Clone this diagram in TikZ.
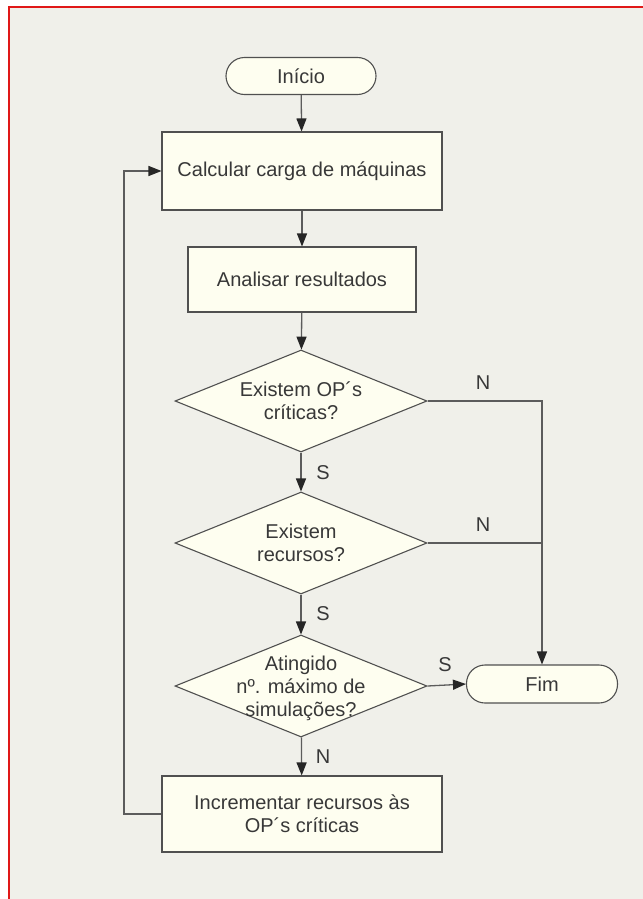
\documentclass[tikz,border=0pt]{standalone}
\usepackage{fontspec}
\setmainfont{Liberation Sans}
\usetikzlibrary{arrows.meta,shapes.geometric}

\definecolor{pagebg}{HTML}{F0F0EA}
\definecolor{boxfill}{HTML}{FEFEF0}
\definecolor{boxline}{HTML}{505050}
\definecolor{wire}{HTML}{5C5C5C}
\definecolor{tip}{HTML}{262626}
\definecolor{ink}{HTML}{383838}
\definecolor{frame}{HTML}{E01818}

\tikzset{
  base/.style={draw=boxline, fill=boxfill, line width=1.1bp, text=ink,
    font=\fontsize{20bp}{23bp}\selectfont, inner sep=0pt, align=center},
  terminal/.style={base, rectangle, rounded corners=18.5bp,
    minimum width=150bp, minimum height=37bp},
  process/.style={base, rectangle, minimum width=280bp},
  decision/.style={base, diamond, minimum width=252bp, minimum height=102bp},
  dtext/.style={text=ink, font=\fontsize{20bp}{23bp}\selectfont,
    align=center, inner sep=0pt},
  wirelab/.style={text=ink, font=\fontsize{20bp}{23bp}\selectfont, inner sep=0pt},
  flow/.style={draw=wire, line width=1.3bp,
    -{Triangle[length=13bp,width=10bp,fill=tip,color=tip]}},
  plain/.style={draw=wire, line width=1.3bp}
}

\begin{document}
\begin{tikzpicture}[x=1bp,y=-1bp]
  % canvas and frame
  \useasboundingbox (0,0) rectangle (643,899);
  \fill[white] (0,0) rectangle (643,899);
  \fill[pagebg] (9,7) rectangle (643,899);
  \draw[frame, line width=2bp] (9,899) -- (9,7) -- (643,7);

  % nodes
  \node[terminal] (ini) at (301,76) {Início};
  \node[process, minimum height=78bp] (calc) at (302,171) {Calcular carga de máquinas};
  \node[process, minimum width=228bp, minimum height=65bp] (anal) at (302,279.5) {Analisar resultados};
  \node[decision] (d1) at (301,401) {};
  \node[dtext] (t1) at (d1.center) {Existem OP´s\\críticas?};
  \node[decision] (d2) at (301,543) {};
  \node[dtext] (t2) at (d2.center) {Existem\\recursos?};
  \node[decision] (d3) at (301,686) {};
  \node[dtext] (t3) at ([yshift=-2bp]d3.center) {Atingido\\nº. máximo de\\simulações?};
  \node[terminal, minimum width=151bp, minimum height=38bp] (fim) at (542,684) {Fim};
  \node[process, minimum height=76bp] (inc) at (302,814) {Incrementar recursos às\\OP´s críticas};

  % main flow
  \draw[flow] (ini) -- (calc);
  \draw[flow] (calc) -- (anal);
  \draw[flow] (anal) -- (d1);
  \draw[flow] (d1) -- (d2);
  \draw[flow] (d2) -- (d3);
  \draw[flow] (d3) -- (inc);
  \draw[flow] (d3.east) -- (fim.west);

  % "no" branches to the end
  \draw[flow] (d1.east) -| (fim.north);
  \draw[plain] (d2.east) -- (fim.north |- d2.east);

  % loop back
  \coordinate (back) at (124,814);
  \draw[flow] (inc.west) -- (back) |- (calc.west);

  % branch labels
  \node[wirelab] (n1) at (483,383) {N};
  \node[wirelab] (n2) at (483,525) {N};
  \node[wirelab] (s1) at (323,473) {S};
  \node[wirelab] (s2) at (323,614) {S};
  \node[wirelab] (s3) at (445,665) {S};
  \node[wirelab] (n3) at (323,757) {N};
\end{tikzpicture}
\end{document}
